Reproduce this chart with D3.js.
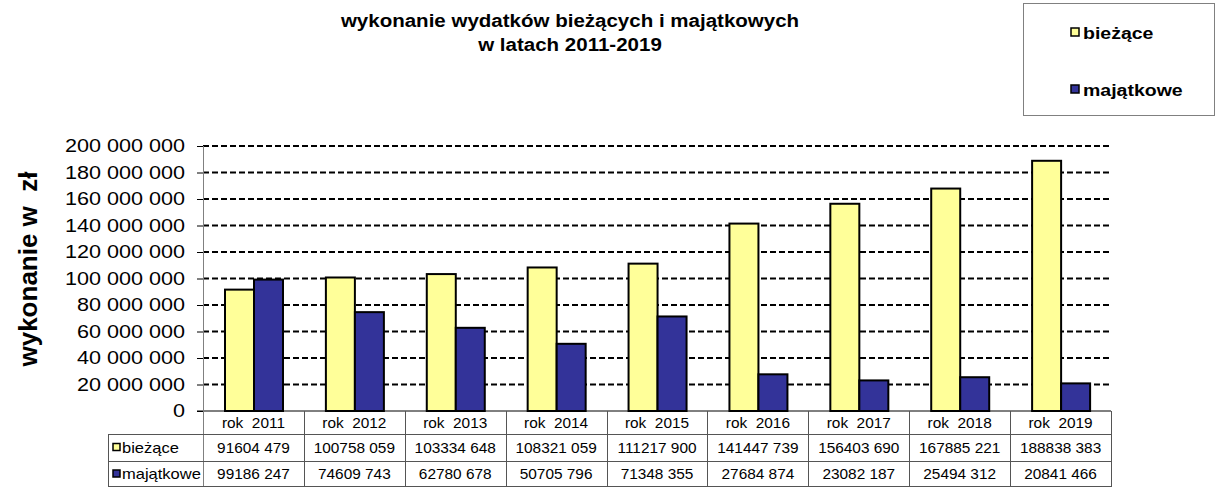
<!DOCTYPE html>
<html>
<head>
<meta charset="utf-8">
<script src="https://cdn.jsdelivr.net/npm/d3@7"></script>
<style>
  body { margin: 0; background: #fff; }
  text { font-family: "Liberation Sans", Arial, sans-serif; white-space: pre; }
</style>
</head>
<body>
<div id="chart"></div>
<script>
// Data
const years = ["rok  2011", "rok  2012", "rok  2013", "rok  2014", "rok  2015", "rok  2016", "rok  2017", "rok  2018", "rok  2019"];
const seriesNames = ["bieżące", "majątkowe"];
const biezace = [91604479, 100758059, 103334648, 108321059, 111217900, 141447739, 156403690, 167885221, 188838383];
const majatkowe = [99186247, 74609743, 62780678, 50705796, 71348355, 27684874, 23082187, 25494312, 20841466];
const yTicks = [0, 20000000, 40000000, 60000000, 80000000, 100000000, 120000000, 140000000, 160000000, 180000000, 200000000];

const colors = ["#FFFF99", "#333399"];
const width = 1220, height = 487;

const svg = d3.select("#chart").append("svg")
    .attr("width", width)
    .attr("height", height);

// Plot area
const plotLeft = 203, plotRight = 1111, plotTop = 146, plotBottom = 411;

const x = d3.scaleBand().domain(years).range([plotLeft, plotRight]);
const y = d3.scaleLinear().domain([0, 200000000]).range([plotBottom, plotTop]);

// Number format with space as thousands separator
const fmtTick = d => d3.format(",")(d).replace(/,/g, " ");
// table values keep the original spacing (only last group separated)
const fmtCell = d => {
    const s = String(d);
    return s.slice(0, s.length - 3) + " " + s.slice(s.length - 3);
};

// text a bit wider than the font, like the original
function addText(parent, tx, ty, str, size, sx, opts = {}) {
    return parent.append("text")
        .attr("transform", `translate(${tx},${ty}) scale(${sx},1)`)
        .attr("text-anchor", opts.anchor || "start")
        .style("font-size", size + "px")
        .style("font-weight", opts.bold ? "bold" : "normal")
        .text(str);
}

// Title
addText(svg, 570, 27, "wykonanie wydatków bieżących i majątkowych", 19, 1.08, { anchor: "middle", bold: true });
addText(svg, 570, 51, "w latach 2011-2019", 19, 1.08, { anchor: "middle", bold: true });

// Legend box
const legend = svg.append("g");
legend.append("rect")
    .attr("x", 1023.5).attr("y", 3.5)
    .attr("width", 191).attr("height", 112)
    .attr("fill", "#fff").attr("stroke", "#808080").attr("stroke-width", 1);
seriesNames.forEach((name, i) => {
    const ly = 33 + i * 57;
    legend.append("rect")
        .attr("x", 1071).attr("y", ly - 5)
        .attr("width", 8).attr("height", 8)
        .attr("fill", colors[i]).attr("stroke", "#000").attr("stroke-width", 1.5);
    addText(legend, 1083, ly + 5.5, name, 16, 1.22, { bold: true });
});

// Gridlines (dashed)
svg.append("g")
    .selectAll("line")
    .data(yTicks.filter(d => d > 0))
    .enter()
    .append("line")
    .attr("x1", plotLeft).attr("x2", plotRight)
    .attr("y1", d => y(d)).attr("y2", d => y(d))
    .attr("stroke", "#000")
    .attr("stroke-width", 2)
    .attr("stroke-dasharray", "6,3");

// Y axis
const yAxis = d3.axisLeft(y)
    .tickValues(yTicks)
    .tickFormat(fmtTick)
    .tickSize(6);
const yg = svg.append("g")
    .attr("transform", `translate(${plotLeft},0)`)
    .call(yAxis);
yg.select(".domain").remove();
yg.selectAll(".tick line").attr("stroke", "#000");
yg.selectAll(".tick text")
    .attr("x", 0)
    .attr("transform", "translate(-18,0) scale(1.2,1)")
    .style("font-size", "18px")
    .style("font-family", "'Liberation Sans', Arial, sans-serif")
    .attr("fill", "#000");

// Y axis title
svg.append("text")
    .attr("transform", "translate(37,269) rotate(-90)")
    .attr("text-anchor", "middle")
    .style("font-size", "26px").style("font-weight", "bold")
    .text("wykonanie w  zł");

// Bars
const barW = 29;
const groupOffset = 22;
const bars = svg.append("g");
[biezace, majatkowe].forEach((series, si) => {
    bars.selectAll(".bar" + si)
        .data(series)
        .enter()
        .append("rect")
        .attr("class", "bar" + si)
        .attr("x", (d, i) => x(years[i]) + groupOffset + si * barW)
        .attr("y", d => y(d))
        .attr("width", barW)
        .attr("height", d => plotBottom - y(d))
        .attr("fill", colors[si])
        .attr("stroke", "#000")
        .attr("stroke-width", 2);
});

// Zero line
svg.append("line")
    .attr("x1", plotLeft - 6).attr("x2", plotRight)
    .attr("y1", plotBottom).attr("y2", plotBottom)
    .attr("stroke", "#000").attr("stroke-width", 1);

// Y axis line (gray, runs through table)
const rowTops = [411, 434, 461, 487];
svg.append("line")
    .attr("x1", plotLeft + 0.5).attr("x2", plotLeft + 0.5)
    .attr("y1", plotTop).attr("y2", rowTops[3])
    .attr("stroke", "#808080").attr("stroke-width", 1);

// Data table
const tableLeft = 108;
const tg = svg.append("g");
const lineColor = "#555";
const tSize = 14, tScale = 1.1;

// horizontal lines
[rowTops[1] + 0.5, rowTops[2] + 0.5, rowTops[3] - 0.5].forEach(ly => {
    tg.append("line").attr("x1", tableLeft).attr("x2", plotRight)
        .attr("y1", ly).attr("y2", ly)
        .attr("stroke", lineColor);
});
tg.append("line").attr("x1", tableLeft + 0.5).attr("x2", tableLeft + 0.5)
    .attr("y1", rowTops[1]).attr("y2", rowTops[3])
    .attr("stroke", lineColor);

// vertical lines between categories
tg.selectAll(".vline")
    .data(years)
    .enter()
    .append("line")
    .attr("class", "vline")
    .attr("x1", d => Math.round(x(d) + x.bandwidth()) + 0.5)
    .attr("x2", d => Math.round(x(d) + x.bandwidth()) + 0.5)
    .attr("y1", rowTops[0]).attr("y2", rowTops[3])
    .attr("stroke", lineColor);

// header row
years.forEach(yr => {
    addText(tg, x(yr) + x.bandwidth() / 2, 428, yr, tSize, tScale, { anchor: "middle" });
});

// series rows
[biezace, majatkowe].forEach((series, si) => {
    const ty = (rowTops[si + 1] + rowTops[si + 2]) / 2 + 5;
    tg.append("rect")
        .attr("x", tableLeft + 5).attr("y", ty - 9)
        .attr("width", 7).attr("height", 7)
        .attr("fill", colors[si]).attr("stroke", "#000").attr("stroke-width", 1.5);
    addText(tg, tableLeft + 14, ty, seriesNames[si], tSize, 1.18);
    series.forEach((v, i) => {
        addText(tg, x(years[i]) + x.bandwidth() / 2, ty, fmtCell(v), tSize, tScale, { anchor: "middle" });
    });
});
</script>
</body>
</html>
